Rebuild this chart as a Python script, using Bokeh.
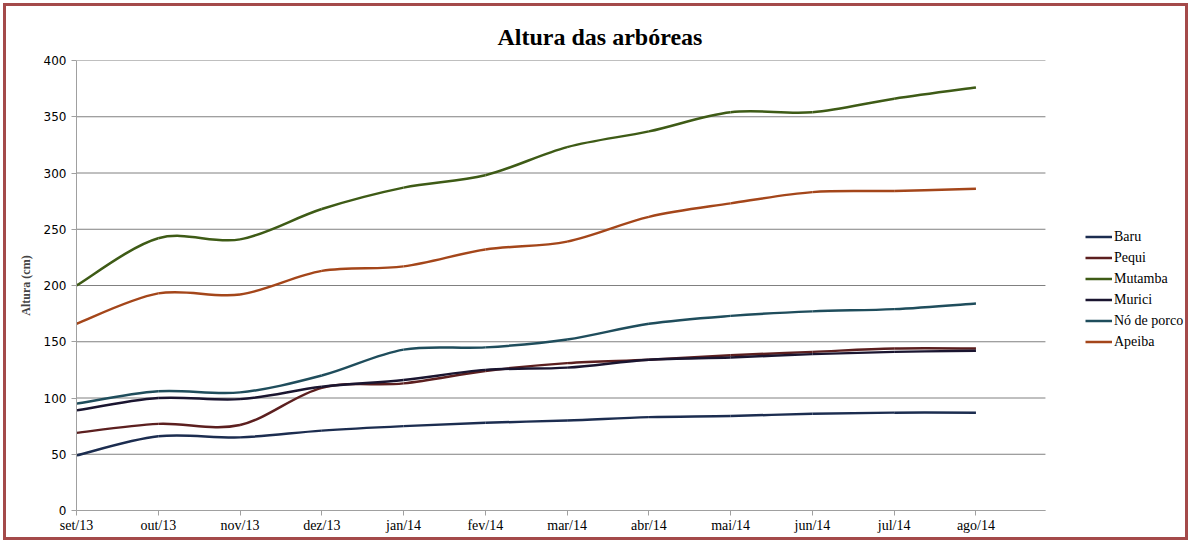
from bokeh.plotting import figure
from bokeh.models import (ColumnDataSource, Range1d, FixedTicker, Legend, LegendItem)
from bokeh.embed import file_html
from bokeh.resources import INLINE

months = ["set/13", "out/13", "nov/13", "dez/13", "jan/14", "fev/14",
          "mar/14", "abr/14", "mai/14", "jun/14", "jul/14", "ago/14"]
y_ticks = [0, 50, 100, 150, 200, 250, 300, 350, 400]
baru = [49, 66, 65, 71, 75, 78, 80, 83, 84, 86, 87, 87]
pequi = [69, 77, 76, 109, 113, 124, 131, 134, 138, 141, 144, 144]
mutamba = [200, 242, 241, 268, 287, 298, 323, 337, 354, 354, 366, 376]
murici = [89, 100, 99, 110, 116, 125, 127, 134, 136, 139, 141, 142]
no_de_porco = [95, 106, 105, 120, 143, 145, 152, 166, 173, 177, 179, 184]
apeiba = [166, 193, 192, 213, 217, 232, 239, 261, 273, 283, 284, 286]

series = [
    ("Baru", baru, "#1c2d50"),
    ("Pequi", pequi, "#5c1f1f"),
    ("Mutamba", mutamba, "#3e5b16"),
    ("Murici", murici, "#1a1530"),
    ("Nó de porco", no_de_porco, "#1f4d5c"),
    ("Apeiba", apeiba, "#a4461a"),
]

AXIS_END = 11.85     # where the category axis stops
p = figure(width=1191, height=543, output_backend="svg", toolbar_location=None,
           x_range=Range1d(0, 13.575), y_range=Range1d(0, 400),
           min_border_left=76, min_border_right=5, min_border_top=60,
           min_border_bottom=33, background_fill_alpha=0,
           border_fill_alpha=0, outline_line_color=None,
           title="Altura das arbóreas")
p.styles = {"box-shadow": "inset 0 0 0 3px white, inset 0 0 0 6px #a44a4a",
            "background-color": "white"}

p.title.align = "left"
p.title.offset = 421
p.title.text_font = "Liberation Serif"
p.title.text_font_style = "bold"
p.title.text_font_size = "24px"
p.title.text_color = "black"
p.title.standoff = 21

# horizontal gridlines limited to the axis extent
p.xgrid.visible = False
p.ygrid.visible = False
p.segment(x0=[0] * len(y_ticks), x1=[AXIS_END] * len(y_ticks), y0=y_ticks, y1=y_ticks,
          line_color="#808080", line_width=1)

p.yaxis.ticker = FixedTicker(ticks=y_ticks)
p.xaxis.ticker = FixedTicker(ticks=list(range(len(months))))
p.xaxis.major_label_overrides = {i: m for i, m in enumerate(months)}
p.xaxis.bounds = (0, AXIS_END)

for ax in (p.xaxis, p.yaxis):
    ax.axis_line_color = "#a0a0a0"
    ax.axis_line_width = 1
    ax.major_tick_line_color = "#a0a0a0"
    ax.minor_tick_line_color = None
    ax.major_tick_in = 0
    ax.major_tick_out = 5
    ax.major_label_text_color = "black"

p.xaxis.major_label_text_font = "Liberation Serif"
p.xaxis.major_label_text_font_size = "14px"
p.xaxis.major_label_standoff = 2
p.yaxis.major_label_text_font = "DejaVu Sans"
p.yaxis.major_label_text_font_size = "12px"
p.yaxis.major_label_standoff = 5
p.yaxis.axis_label = "Altura (cm)"
p.yaxis.axis_label_text_font = "Liberation Serif"
p.yaxis.axis_label_text_font_style = "bold"
p.yaxis.axis_label_text_font_size = "12px"
p.yaxis.axis_label_standoff = 8

items = []
n = len(months)
xs = list(range(n))
for name, vals, color in series:
    x0, y0, x1, y1, cx0, cy0, cx1, cy1 = [], [], [], [], [], [], [], []
    for i in range(n - 1):
        im1 = max(i - 1, 0)
        ip2 = min(i + 2, n - 1)
        x0.append(xs[i]); y0.append(vals[i])
        x1.append(xs[i + 1]); y1.append(vals[i + 1])
        cx0.append(xs[i] + (xs[i + 1] - xs[im1]) / 6)
        cy0.append(vals[i] + (vals[i + 1] - vals[im1]) / 6)
        cx1.append(xs[i + 1] - (xs[ip2] - xs[i]) / 6)
        cy1.append(vals[i + 1] - (vals[ip2] - vals[i]) / 6)
    src = ColumnDataSource(dict(x0=x0, y0=y0, x1=x1, y1=y1,
                                cx0=cx0, cy0=cy0, cx1=cx1, cy1=cy1))
    r = p.bezier(x0="x0", y0="y0", x1="x1", y1="y1", cx0="cx0", cy0="cy0",
                 cx1="cx1", cy1="cy1", source=src, line_color=color,
                 line_width=2.5)
    items.append(LegendItem(label=name, renderers=[r]))

legend = Legend(items=items, location=(1009, 158), orientation="vertical",
                glyph_width=27, glyph_height=21, label_height=21,
                label_standoff=2, spacing=0, padding=0, margin=0,
                border_line_color=None, background_fill_alpha=0,
                label_text_font="Liberation Serif", label_text_font_size="14px",
                label_text_color="black")
p.add_layout(legend, "center")

open("out.html", "w").write(file_html(p, INLINE))
